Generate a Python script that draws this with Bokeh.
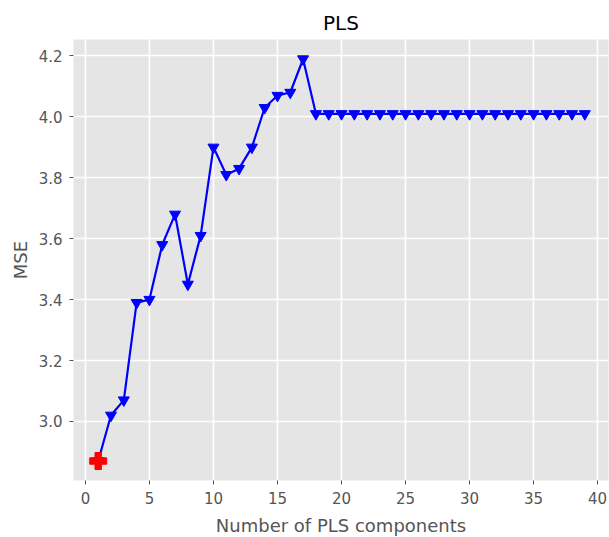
from bokeh.plotting import figure
from bokeh.models import Range1d, FixedTicker
from bokeh.embed import file_html
from bokeh.resources import INLINE

components = list(range(1, 40))
mse = [2.87, 3.02, 3.07, 3.39, 3.40, 3.58, 3.68, 3.45, 3.61, 3.90,
       3.81, 3.83, 3.90, 4.03, 4.07, 4.08, 4.19] + [4.01] * 22
best_x = [1]
best_y = [2.87]
x_ticks = [0, 5, 10, 15, 20, 25, 30, 35, 40]
y_ticks = [3.0, 3.2, 3.4, 3.6, 3.8, 4.0, 4.2]

p = figure(frame_width=535, frame_height=441, output_backend="svg", toolbar_location=None,
           x_range=Range1d(-0.93, 40.85), y_range=Range1d(2.806, 4.254),
           min_border_left=73, min_border_top=39, min_border_bottom=57, min_border_right=1,
           title="PLS")
p.background_fill_color = "#E5E5E5"
p.border_fill_color = "white"
p.outline_line_color = None

p.title.align = "center"
p.title.text_font = "DejaVu Sans"
p.title.text_font_size = "20px"
p.title.text_font_style = "normal"
p.title.text_color = "black"

for ax in (p.xaxis[0], p.yaxis[0]):
    ax.axis_line_color = None
    ax.major_tick_line_color = "#555555"
    ax.major_tick_out = 4
    ax.major_tick_in = 0
    ax.minor_tick_line_color = None
    ax.major_label_text_font = "DejaVu Sans"
    ax.major_label_text_font_size = "15px"
    ax.major_label_text_color = "#555555"
    ax.major_label_standoff = 7
    ax.axis_label_text_font = "DejaVu Sans"
    ax.axis_label_text_font_size = "18px"
    ax.axis_label_text_font_style = "normal"
    ax.axis_label_text_color = "#555555"
    ax.axis_label_standoff = 8

p.yaxis.axis_label_standoff = 5
p.xaxis.ticker = FixedTicker(ticks=x_ticks)
p.yaxis.ticker = FixedTicker(ticks=y_ticks)
p.yaxis.major_label_overrides = {v: f"{v:.1f}" for v in y_ticks}
p.xaxis.axis_label = "Number of PLS components"
p.yaxis.axis_label = "MSE"

p.grid.grid_line_color = "white"
p.grid.grid_line_width = 1.6

p.line(components, mse, line_color="blue", line_width=2.2)
p.scatter(components, mse, marker="inverted_triangle", size=11, fill_color="blue", line_color="blue")
p.scatter(best_x, best_y, marker="plus", size=17, fill_color="red", line_color="red")

open("out.html", "w").write(file_html(p, INLINE))
